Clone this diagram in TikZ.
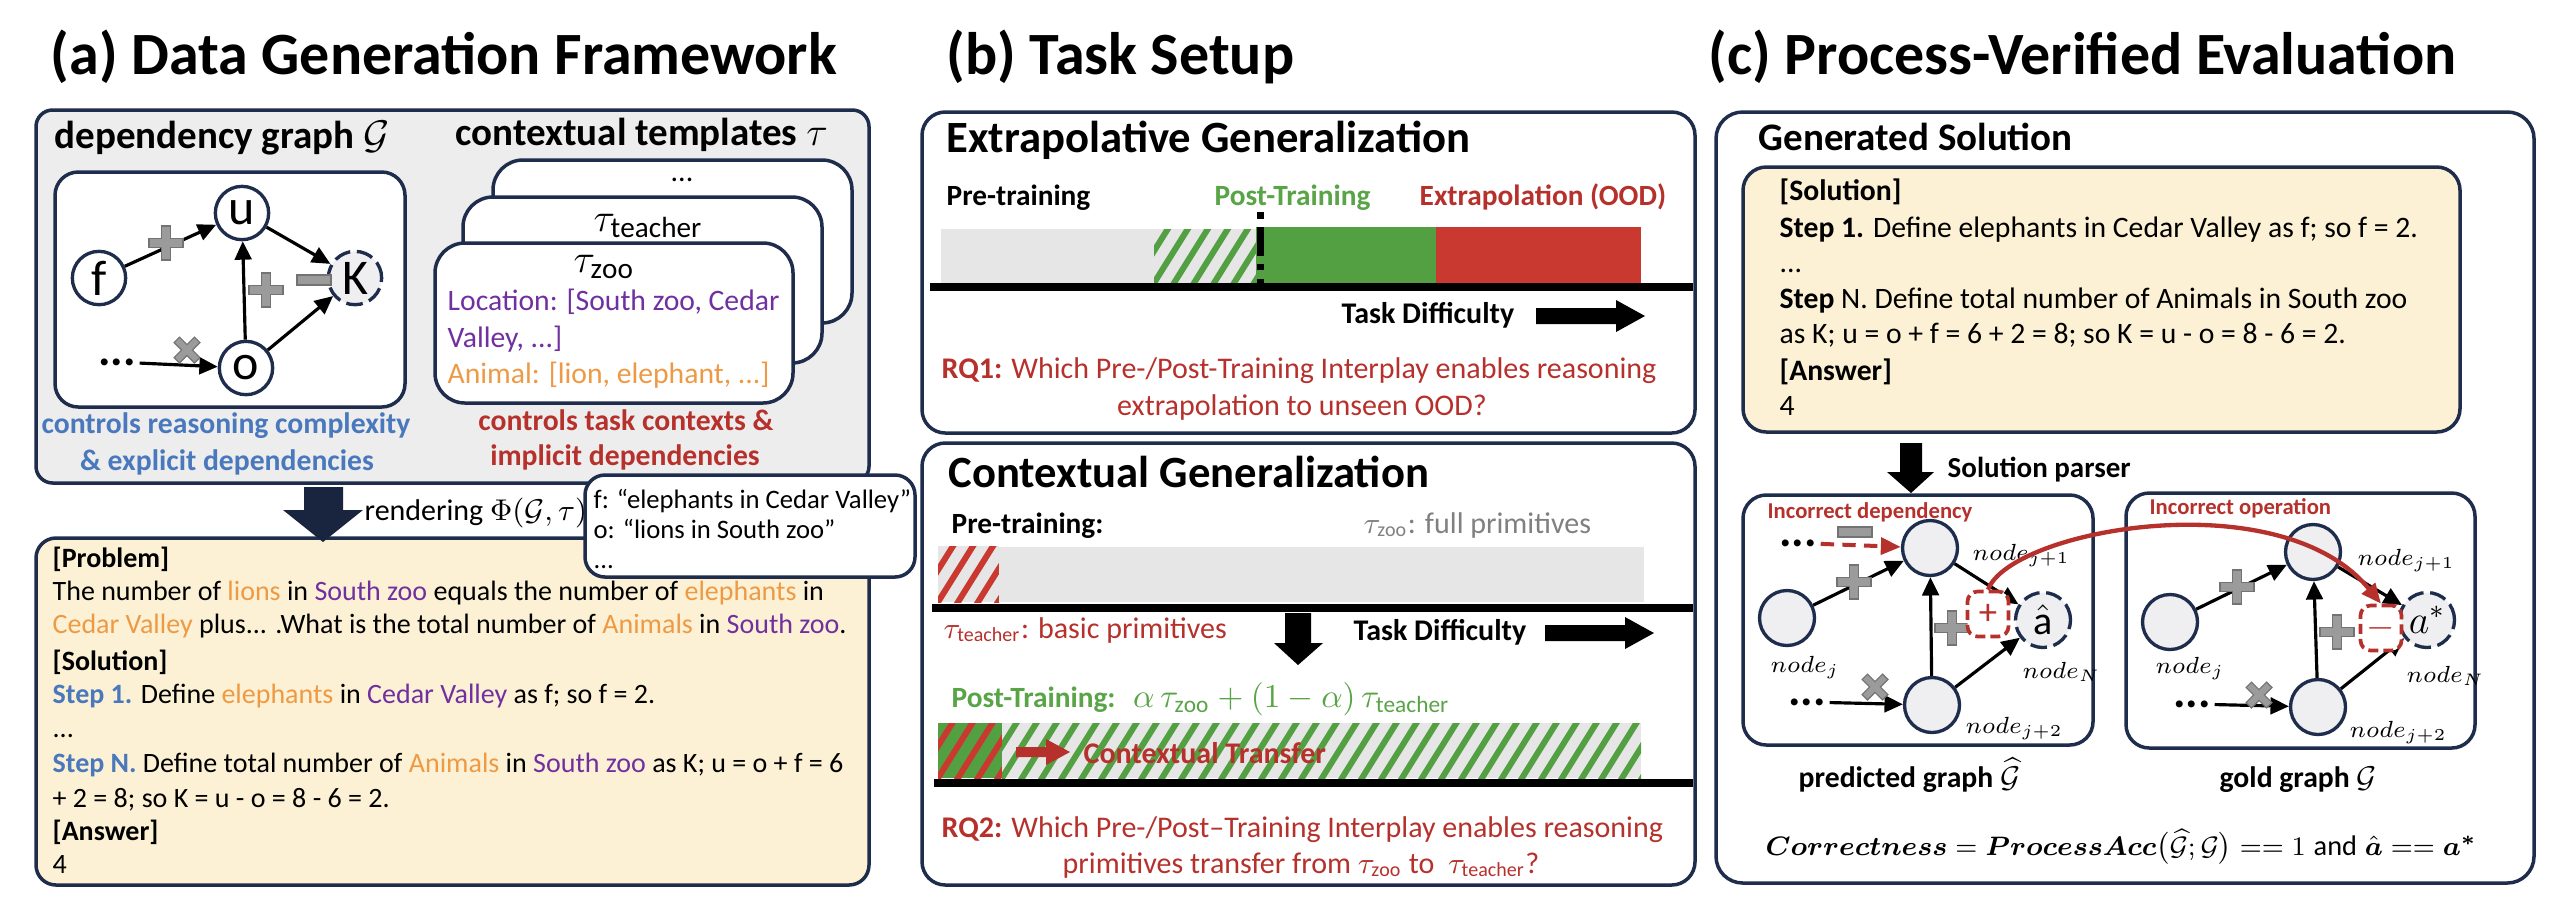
\documentclass[tikz,border=0pt]{standalone}
\usepackage{fontspec}
\setmainfont{Carlito}
\usepackage{amsmath}
\usepackage{bm}
\usetikzlibrary{arrows.meta}

\definecolor{navy}{HTML}{1F2D4D}
\definecolor{panelgray}{HTML}{EDEDED}
\definecolor{ylw}{HTML}{FCF1D4}
\definecolor{tblue}{HTML}{4A78BD}
\definecolor{tred}{HTML}{B7312C}
\definecolor{tpurple}{HTML}{7030A0}
\definecolor{torange}{HTML}{EE9A45}
\definecolor{tgreen}{HTML}{58A446}
\definecolor{bargreen}{HTML}{53A043}
\definecolor{barred}{HTML}{C9392F}
\definecolor{bargray}{HTML}{E6E6E6}
\definecolor{opgray}{HTML}{9B9B9B}
\definecolor{nodefill}{HTML}{EFEFF2}
\definecolor{tgraytext}{HTML}{808080}

\newcommand{\myfs}[1]{\fontsize{#1}{#1}\selectfont}
\newcommand{\corange}[1]{\textcolor{torange}{#1}}
\newcommand{\cpurple}[1]{\textcolor{tpurple}{#1}}
\newcommand{\stripefill}[6]{%
  \fill[#5] (#1,#2) rectangle (#3,#4);
  \begin{scope}
    \clip (#1,#2) rectangle (#3,#4);
    \foreach \k in {0,...,36}{\draw[#6, line width=1.8pt] ({#1-45+20*\k},{#4+8}) -- ++(45,-72);}
  \end{scope}}

\tikzset{
  navybox/.style={draw=navy, line width=1.05pt},
  garrow/.style={-{Triangle[length=5.5pt,width=5pt]}, line width=0.95pt},
  redarrow/.style={-{Triangle[length=6pt,width=5pt]}, draw=tred, line width=1.2pt},
  gnode/.style={circle, draw=navy, line width=1pt, fill=white, minimum size=16pt, inner sep=0pt, font={\myfs{15}}},
  pnode/.style={circle, draw=navy, line width=1pt, fill=nodefill, minimum size=16.5pt, inner sep=0pt, font={\myfs{12}}},
  dashring/.style={dash pattern=on 5pt off 2pt},
  lbl/.style={inner sep=0pt, anchor=base west},
  ctr/.style={inner sep=0pt, anchor=base},
  dotsn/.style={inner sep=1pt, font={\myfs{14}\bfseries}},
  opbar/.style={fill=opgray, draw=black!55, line width=0.35pt},
  redbox/.style={draw=tred, dash pattern=on 3pt off 1.5pt, line width=1.1pt, rounded corners=3pt, fill=white, minimum width=12.3pt, minimum height=13.5pt, inner sep=0pt, text=tred, font={\myfs{11}}},
  opplus/.pic={\filldraw[opbar] (-17,-4.5) -- (-4.5,-4.5) -- (-4.5,-17) -- (4.5,-17) -- (4.5,-4.5) -- (17,-4.5) -- (17,4.5) -- (4.5,4.5) -- (4.5,17) -- (-4.5,17) -- (-4.5,4.5) -- (-17,4.5) -- cycle;},
  opminus/.pic={\filldraw[opbar] (-17,-5) rectangle (17,5);}
}

\begin{document}
\begin{tikzpicture}[x=0.3pt,y=-0.3pt]
\useasboundingbox (0,0) rectangle (2566,898);
\fill[white] (0,0) rectangle (2566,898);

% ---------- titles
\node[lbl, font={\myfs{18}\bfseries}] (ta) at (50,74) {(a) Data Generation Framework};
\node[lbl, font={\myfs{18}\bfseries}] (tb) at (946,74) {(b) Task Setup};
\node[lbl, font={\myfs{18}\bfseries}] (tc) at (1708,74) {(c) Process-Verified Evaluation};

% ---------- panel (a)
\draw[navybox, fill=panelgray, rounded corners=5pt] (36,110) rectangle (869,483);
\node[lbl, font={\myfs{11.7}\bfseries}] (hdep) at (54,148) {dependency graph $\mathcal{G}$};
\node[lbl, font={\myfs{11.7}\bfseries}] (htpl) at (455,145) {contextual templates $\tau$};

\draw[navybox, fill=white, rounded corners=7pt] (55,172) rectangle (405,407);
\node[gnode] (nf) at (99,278) {f};
\node[gnode] (nu) at (242,213) {u};
\node[gnode, fill=nodefill, dashring] (nK) at (355,278) {K};
\node[gnode] (no) at (246,368) {o};
\node[dotsn] (ndots) at (117,362) {...};
\draw[garrow] (nf) -- (nu);
\draw[garrow] (no) -- (nu);
\draw[garrow] (nu) -- (nK);
\draw[garrow] (no) -- (nK);
\draw[garrow] (ndots) -- (no);
\pic at (166,243) {opplus};
\pic at (266,290) {opplus};
\pic at (314,280) {opminus};
\pic[rotate=45, scale=0.85] at (187,350) {opplus};

\draw[navybox, fill=white, rounded corners=9pt] (493,160) rectangle (852,323);
\node[inner sep=0pt, font={\myfs{9}}] (tdots) at (682,180) {...};
\draw[navybox, fill=white, rounded corners=9pt] (463,197) rectangle (822,363);
\node[lbl, font={\myfs{12.5}}] (tteach) at (593,231) {$\tau_{\mathrm{teacher}}$};
\draw[navybox, fill=white, rounded corners=9pt] (435,243) rectangle (793,403);
\node[lbl, font={\myfs{12.5}}] (tzoo) at (573,272) {$\tau_{\mathrm{zoo}}$};
\node[lbl, font={\myfs{8.9}}, text=tpurple] (loc1) at (447,310) {Location: [South zoo, Cedar};
\node[lbl, font={\myfs{8.9}}, text=tpurple] (loc2) at (447,347) {Valley, ...]};
\node[lbl, font={\myfs{8.9}}, text=torange] (anim) at (447,383) {Animal: [lion, elephant, ...]};

\node[ctr, font={\myfs{8.9}\bfseries}, text=tblue] (bl1) at (226,433) {controls reasoning complexity};
\node[ctr, font={\myfs{8.9}\bfseries}, text=tblue] (bl2) at (227,470) {\& explicit dependencies};
\node[ctr, font={\myfs{8.9}\bfseries}, text=tred] (rd1) at (626,430) {controls task contexts \&};
\node[ctr, font={\myfs{8.9}\bfseries}, text=tred] (rd2) at (625,465) {implicit dependencies};

\draw[navybox, fill=ylw, rounded corners=6pt] (36,538) rectangle (869,885);
\fill[navy!80!black] (304,487) -- (343,487) -- (343,510) -- (363,510) -- (323,542) -- (283,510) -- (304,510) -- cycle;
\node[lbl, font={\myfs{9}}] (rend) at (364,520) {rendering $\Phi(\mathcal{G},\tau)$};
\draw[navybox, fill=white, rounded corners=6pt] (585,475) rectangle (915,577);
\node[lbl, font={\myfs{8}}] (fb1) at (593,508) {f: “elephants in Cedar Valley”};
\node[lbl, font={\myfs{8}}] (fb2) at (593,538) {o: “lions in South zoo”};
\node[lbl, font={\myfs{8}}] (fb3) at (593,568) {...};

\node[lbl, font={\myfs{8.4}}] (y1) at (52,567) {\textbf{[Problem]}};
\node[lbl, font={\myfs{8.4}}] (y2) at (52,600) {The number of \corange{lions} in \cpurple{South zoo} equals the number of \corange{elephants} in};
\node[lbl, font={\myfs{8.4}}] (y3) at (52,633) {\corange{Cedar Valley} plus... .What is the total number of \corange{Animals} in \cpurple{South zoo}.};
\node[lbl, font={\myfs{8.4}}] (y4) at (52,670) {\textbf{[Solution]}};
\node[lbl, font={\myfs{8.4}}] (y5) at (52,703) {\textcolor{tblue}{\textbf{Step 1.}} Define \corange{elephants} in \cpurple{Cedar Valley} as f; so f = 2.};
\node[lbl, font={\myfs{8.4}}] (y6) at (52,737) {...};
\node[lbl, font={\myfs{8.4}}] (y7) at (52,772) {\textcolor{tblue}{\textbf{Step N.}} Define total number of \corange{Animals} in \cpurple{South zoo} as K; u = o + f = 6};
\node[lbl, font={\myfs{8.4}}] (y8) at (52,807) {+ 2 = 8; so K = u - o = 8 - 6 = 2.};
\node[lbl, font={\myfs{8.4}}] (y9) at (52,840) {\textbf{[Answer]}};
\node[lbl, font={\myfs{8.4}}] (y10) at (52,873) {4};

% ---------- panel (b) top
\draw[navybox, rounded corners=7pt] (922,112) rectangle (1695,433);
\node[lbl, font={\myfs{13.4}\bfseries}] (hext) at (946,152) {Extrapolative Generalization};
\node[lbl, font={\myfs{8.8}\bfseries}] (lpre) at (946,205) {Pre-training};
\node[lbl, font={\myfs{8.8}\bfseries}, text=tgreen] (lpost) at (1214,205) {Post-Training};
\node[lbl, font={\myfs{8.8}\bfseries}, text=tred] (lood) at (1419,205) {Extrapolation (OOD)};
\fill[bargray] (941,229) rectangle (1154,283);
\stripefill{1154}{229}{1256}{283}{bargray}{bargreen}
\fill[bargreen] (1256,227) rectangle (1436,283);
\fill[barred] (1436,227) rectangle (1641,283);
\draw[line width=2.1pt, dash pattern=on 2pt off 2.6pt on 8.5pt off 2.4pt] (1260,212) -- (1260,284);
\draw[line width=2.4pt] (930,287) -- (1693,287);
\node[lbl, font={\myfs{9}\bfseries}] (td1) at (1341,323) {Task Difficulty};
\fill (1536,308) -- (1616,308) -- (1616,300) -- (1645,316) -- (1616,332) -- (1616,324) -- (1536,324) -- cycle;
\node[lbl, font={\myfs{9}}, text=tred] (rq1a) at (941,378) {\textbf{RQ1:} Which Pre-/Post-Training Interplay enables reasoning};
\node[ctr, font={\myfs{9}}, text=tred] (rq1b) at (1302,415) {extrapolation to unseen OOD?};

% ---------- panel (b) bottom
\draw[navybox, rounded corners=7pt] (922,443) rectangle (1695,885);
\node[lbl, font={\myfs{13.4}\bfseries}] (hctx) at (948,487) {Contextual Generalization};
\node[lbl, font={\myfs{8.8}\bfseries}] (lpre2) at (951,533) {Pre-training:};
\node[lbl, font={\myfs{9}}, text=tgraytext] (lfull) at (1363,533) {$\tau_{\mathrm{zoo}}$: full primitives};
\stripefill{938}{546}{999}{602}{bargray}{barred}
\fill[bargray] (999,547) rectangle (1644,602);
\draw[line width=2.4pt] (932,608) -- (1693,608);
\node[lbl, font={\myfs{9}}, text=tred] (lbasic) at (943,638) {$\tau_{\mathrm{teacher}}$: basic primitives};
\fill (1285,613) -- (1311,613) -- (1311,643) -- (1323,643) -- (1298,665) -- (1274,643) -- (1285,643) -- cycle;
\node[lbl, font={\myfs{9}\bfseries}] (td2) at (1353,640) {Task Difficulty};
\fill (1545,625) -- (1625,625) -- (1625,617) -- (1654,633) -- (1625,649) -- (1625,641) -- (1545,641) -- cycle;
\node[lbl, font={\myfs{8.8}\bfseries}, text=tgreen] (lpost2) at (951,707) {Post-Training:\hspace{0.6em}{\mdseries\myfs{10}$\alpha\,\tau_{\mathrm{zoo}}+(1-\alpha)\,\tau_{\mathrm{teacher}}$}};
\stripefill{938}{723}{1002}{778}{bargreen}{barred}
\stripefill{1002}{723}{1641}{778}{bargray}{bargreen}
\draw[line width=2.4pt] (934,783) -- (1693,783);
\fill[tred] (1016,747) -- (1046,747) -- (1046,739) -- (1070,752) -- (1046,765) -- (1046,757) -- (1016,757) -- cycle;
\node[lbl, font={\myfs{9}\bfseries}, text=tred] (ctrans) at (1083,763) {Contextual Transfer};
\node[lbl, font={\myfs{9}}, text=tred] (rq2a) at (941,837) {\textbf{RQ2:} Which Pre-/Post--Training Interplay enables reasoning};
\node[ctr, font={\myfs{9}}, text=tred] (rq2b) at (1301,873) {primitives transfer from $\tau_{\mathrm{zoo}}$ to \ $\tau_{\mathrm{teacher}}$?};

% ---------- panel (c)
\draw[navybox, rounded corners=8pt] (1716,112) rectangle (2534,883);
\node[lbl, font={\myfs{11.7}\bfseries}] (hgen) at (1758,150) {Generated Solution};
\draw[navybox, fill=ylw, rounded corners=7pt] (1743,167) rectangle (2460,432);
\node[lbl, font={\myfs{8.9}}] (s1) at (1779,200) {\textbf{[Solution]}};
\node[lbl, font={\myfs{8.9}}] (s2) at (1779,237) {\textbf{Step 1.} Define elephants in Cedar Valley as f; so f = 2.};
\node[lbl, font={\myfs{8.9}}] (s3) at (1779,272) {...};
\node[lbl, font={\myfs{8.9}}] (s4) at (1779,308) {\textbf{Step} N. Define total number of Animals in South zoo};
\node[lbl, font={\myfs{8.9}}] (s5) at (1779,343) {as K; u = o + f = 6 + 2 = 8; so K = u - o = 8 - 6 = 2.};
\node[lbl, font={\myfs{8.9}}] (s6) at (1779,380) {\textbf{[Answer]}};
\node[lbl, font={\myfs{8.9}}] (s7) at (1779,415) {4};
\fill (1900,443) -- (1922,443) -- (1922,472) -- (1934,472) -- (1911,493) -- (1887,472) -- (1900,472) -- cycle;
\node[lbl, font={\myfs{8.7}\bfseries}] (sparse) at (1947,477) {Solution parser};

% predicted graph
\draw[navybox, fill=white, rounded corners=7pt] (1743,495) rectangle (2093,745);
\node[lbl, font={\myfs{6.8}\bfseries}, text=tred] (incdep) at (1767,518) {Incorrect dependency};
\node[pnode] (pup) at (1930,548) {};
\node[pnode] (pj) at (1787,618) {};
\node[pnode] (pj2) at (1932,705) {};
\node[pnode, dashring] (phat) at (2043,620) {$\hat{\mathrm{a}}$};
\node[dotsn] (pd1) at (1798,543) {...};
\node[dotsn] (pd2) at (1807,702) {...};
\draw[garrow] (pj) -- (pup);
\draw[garrow] (pj2) -- (pup);
\draw[garrow] (pup) -- (phat);
\draw[garrow] (pj2) -- (phat);
\draw[garrow] (pd2) -- (pj2);
\draw[redarrow, dash pattern=on 4pt off 2.5pt] (pd1) -- (pup);
\pic at (1855,532) {opminus};
\pic at (1854,582) {opplus};
\pic at (1952,628) {opplus};
\pic[rotate=45, scale=0.85] at (1875,687) {opplus};
\node[redbox] (pbox) at (1988,614) {+};
\node[lbl, font={\myfs{7}}] (lpup) at (1972,560) {$node_{j+1}$};
\node[lbl, font={\myfs{7}}] (lpj) at (1770,672) {$node_{j}$};
\node[lbl, font={\myfs{7}}] (lphat) at (2022,678) {$node_{N}$};
\node[lbl, font={\myfs{7}}] (lpj2) at (1965,733) {$node_{j+2}$};
\node[lbl, font={\myfs{8.9}\bfseries}] (lpred) at (1798,787) {predicted graph $\widehat{\mathcal{G}}$};

% gold graph
\draw[navybox, fill=white, rounded corners=7pt] (2126,493) rectangle (2475,748);
\node[lbl, font={\myfs{6.8}\bfseries}, text=tred] (incop) at (2149,514) {Incorrect operation};
\node[pnode] (gup) at (2313,552) {};
\node[pnode] (gj) at (2170,622) {};
\node[pnode] (gj2) at (2318,707) {};
\node[pnode, dashring] (gstar) at (2427,620) {$a^{*}$};
\node[dotsn] (gd) at (2192,704) {...};
\draw[garrow] (gj) -- (gup);
\draw[garrow] (gj2) -- (gup);
\draw[garrow] (gup) -- (gstar);
\draw[garrow] (gj2) -- (gstar);
\draw[garrow] (gd) -- (gj2);
\pic at (2237,587) {opplus};
\pic at (2337,632) {opplus};
\pic[rotate=45, scale=0.85] at (2259,695) {opplus};
\node[redbox] (gbox) at (2381,628) {$-$};
\node[lbl, font={\myfs{7}}] (lgup) at (2357,565) {$node_{j+1}$};
\node[lbl, font={\myfs{7}}] (lgj) at (2155,673) {$node_{j}$};
\node[lbl, font={\myfs{7}}] (lgstar) at (2406,682) {$node_{N}$};
\node[lbl, font={\myfs{7}}] (lgj2) at (2349,737) {$node_{j+2}$};
\node[lbl, font={\myfs{8.9}\bfseries}] (lgold) at (2219,787) {gold graph $\mathcal{G}$};

\draw[redarrow, line width=1.3pt] (pbox.north) .. controls (2010,530) and (2280,480) .. (gbox.north);

\node[lbl, font={\myfs{8.5}}] (form) at (1765,855) {$\bm{Correctness} = \bm{ProcessAcc}\bigl(\widehat{\mathcal{G}};\mathcal{G}\bigr) \mathrel{==} 1\;\mathrm{and}\;\bm{\hat{a}} \mathrel{==} \bm{a^{*}}$};
\end{tikzpicture}
\end{document}
